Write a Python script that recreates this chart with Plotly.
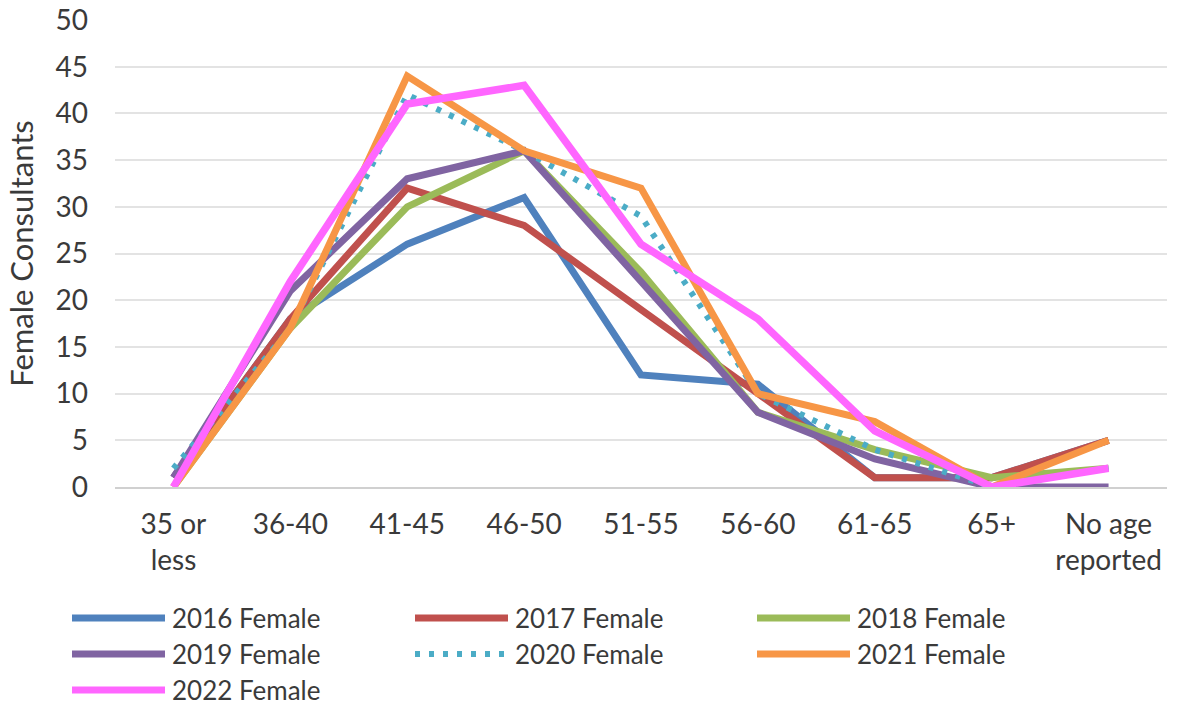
import plotly.graph_objects as go

# Age bands on the x axis
age_bands = ["35 or<br>less", "36-40", "41-45", "46-50", "51-55",
             "56-60", "61-65", "65+", "No age<br>reported"]

# Female consultants per age band, one list per year
female_2016 = [1, 18, 26, 31, 12, 11, 1, 1, 5]
female_2017 = [1, 18, 32, 28, 19, 10, 1, 1, 5]
female_2018 = [0, 17, 30, 36, 23, 8, 4, 1, 2]
female_2019 = [1, 21, 33, 36, 22, 8, 3, 0, 0]
female_2020 = [2, 17, 42, 36, 29, 10, 4, 0, 2]
female_2021 = [0, 17, 44, 36, 32, 10, 7, 0, 5]
female_2022 = [0, 22, 41, 43, 26, 18, 6, 0, 2]

series_names = ["2016 Female", "2017 Female", "2018 Female", "2019 Female",
                "2020 Female", "2021 Female", "2022 Female"]
series_values = [female_2016, female_2017, female_2018, female_2019,
                 female_2020, female_2021, female_2022]
series_colors = ["#4F81BD", "#C0504D", "#9BBB59", "#8064A2",
                 "#4BACC6", "#F79646", "#FF66FF"]
series_dash = ["solid", "solid", "solid", "solid", "5px,9px", "solid", "solid"]
series_width = [7, 7, 7, 7, 6, 7, 7.5]

FONT = "Lato"
TEXT_COLOR = "#3A3A3A"

# Plot-area geometry in pixels, used to place the legend below it
PLOT_L, PLOT_R, PLOT_T, PLOT_B = 115, 1167, 20, 487


def px_x(px):
    return (px - PLOT_L) / (PLOT_R - PLOT_L)


def px_y(py):
    return (PLOT_B - py) / (PLOT_B - PLOT_T)


fig = go.Figure()
for name, vals, col, dash, w in zip(series_names, series_values,
                                    series_colors, series_dash, series_width):
    fig.add_trace(go.Scatter(
        x=age_bands, y=vals, name=name, mode="lines",
        line=dict(color=col, width=w, dash=dash),
        showlegend=False,
    ))

# Legend drawn as long swatches in a 3-column grid below the plot
col_px = [72, 415, 757]
row_px = [618, 654, 690]
swatch_px = 93
for i, (name, col, dash) in enumerate(zip(series_names, series_colors, series_dash)):
    x0 = col_px[i % 3]
    y = row_px[i // 3]
    fig.add_shape(
        type="line", xref="paper", yref="paper",
        x0=px_x(x0), x1=px_x(x0 + swatch_px), y0=px_y(y), y1=px_y(y),
        line=dict(color=col, width=7 if dash == "solid" else 6, dash=dash),
    )
    fig.add_annotation(
        xref="paper", yref="paper", x=px_x(x0 + swatch_px + 5), y=px_y(y),
        text=name, showarrow=False, xanchor="left", yanchor="middle",
        font=dict(family=FONT, size=26, color=TEXT_COLOR),
    )

fig.update_layout(
    width=1177, height=706,
    margin=dict(l=PLOT_L, r=1177 - PLOT_R, t=PLOT_T, b=706 - PLOT_B),
    plot_bgcolor="white", paper_bgcolor="white",
    font=dict(family=FONT, size=28, color=TEXT_COLOR),
    xaxis=dict(
        type="category", range=[-0.5, 8.5], automargin=False,
        showgrid=False, showline=True, linecolor="#D0D0D0", linewidth=2,
        ticks="", tickfont=dict(family=FONT, size=28, color=TEXT_COLOR),
        ticklabelstandoff=11,
    ),
    yaxis=dict(
        range=[0, 50], dtick=5, automargin=False,
        showgrid=True, gridcolor="#E3E3E3", gridwidth=2,
        zeroline=False, showline=False, ticks="",
        tickfont=dict(family=FONT, size=28, color=TEXT_COLOR),
        ticklabelstandoff=26,
        title=dict(text="Female Consultants",
                   font=dict(family=FONT, size=31, color=TEXT_COLOR), standoff=12),
    ),
)

fig.write_html("out.html")
